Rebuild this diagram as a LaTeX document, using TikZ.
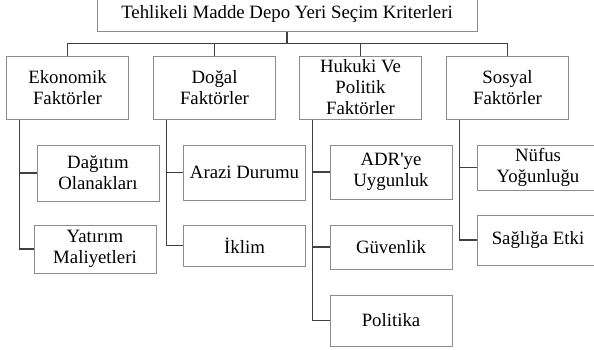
\documentclass[tikz,border=0pt]{standalone}
\usepackage{fontspec}
\setmainfont{Liberation Serif}
\begin{document}
\begin{tikzpicture}[x=.5pt,y=-.5pt,font=\fontsize{9.4}{10.5}\selectfont,line join=miter,
	box/.style={draw=black!45,line width=.5pt,inner sep=0pt,align=center,minimum width=61pt},
	link/.style={draw=black!75,line width=.8pt}]
	\useasboundingbox (0,0) rectangle (594,349);
	\node[box,minimum width=190pt,minimum height=17pt] (root) at (287,14) {Tehlikeli Madde Depo Yeri Seçim Kriterleri};
	\foreach \n/\x/\t in {eko/67.5/{Ekonomik\\Faktörler},dog/214.5/{Doğal\\Faktörler},huk/360.5/{Hukuki Ve\\Politik\\Faktörler},sos/507.5/{Sosyal\\Faktörler}}
	\node[box,minimum height=31.5pt] (\n) at (\x,87.5) {\t};
	\draw[link] (root.south) -- ++(0,12) coordinate (bus);
	\foreach \n in {eko,dog,huk,sos}
	\draw[link] (bus) -| (\n.north);
	% sub-criteria
	\foreach \n/\p/\x/\y/\h/\t in {dag/eko/98/173/56/{Dağıtım\\Olanakları},yat/eko/95/249/48/{Yatırım\\Maliyetleri},
		ara/dog/244.5/172.5/55/{Arazi Durumu},ikl/dog/244.5/245.5/41/{İklim},
		adr/huk/391/172/54/{ADR\textquotesingle ye\\Uygunluk},guv/huk/391/247/44/{Güvenlik},pol/huk/391/320.5/51/{Politika},
		nuf/sos/538/167.5/45/{Nüfus\\Yoğunluğu},sag/sos/538/240/50/{Sağlığa Etki}}
	{\node[box,minimum height=\h*.5pt] (\n) at (\x,\y) {\t};
	\draw[link] (\p.south west) ++(13.5,0) |- (\n.west);}
\end{tikzpicture}
\end{document}
